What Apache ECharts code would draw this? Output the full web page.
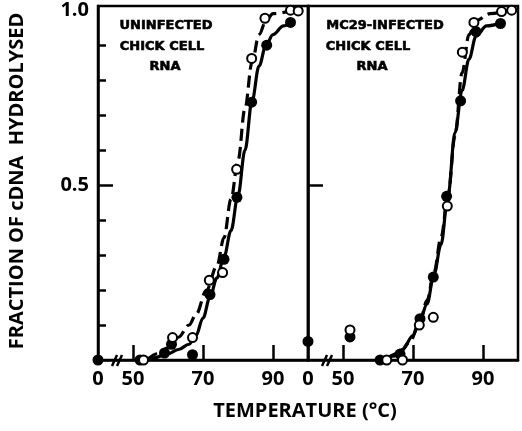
<!DOCTYPE html>
<html lang="en">
<head>
<meta charset="UTF-8">
<title>cDNA hydrolysis melting curves</title>
<style>
  * { margin: 0; padding: 0; }
  body { background: #fff; overflow: hidden; }
  #chart { width: 522px; height: 431px; }
</style>
</head>
<body>
<div id="chart"></div>
<script src="https://cdn.jsdelivr.net/npm/echarts@6/dist/echarts.min.js"></script>
<script>
  // [temperature °C, fraction of cDNA hydrolysed]
  // a temperature of 0 sits at the axis break
  const uninfFilled = [[0, 0], [52, 0], [59, 0.02], [61, 0.045], [67, 0.015], [72, 0.187], [76, 0.288], [79.7, 0.465], [83.9, 0.737], [88.2, 0.9], [95, 0.965]];
  const uninfOpen = [[53, 0], [61.3, 0.064], [67, 0.064], [71.8, 0.228], [75.6, 0.25], [79.6, 0.545], [83.9, 0.862], [87.7, 0.977], [95, 1.0], [97.2, 0.998]];
  const uninfSolid = [[52.5, 0], [56, 0.006], [60, 0.018], [63, 0.03], [66, 0.045], [68, 0.07], [70, 0.12], [72, 0.18], [74, 0.235], [76, 0.295], [78, 0.37], [80, 0.47], [82, 0.6], [84, 0.74], [86, 0.84], [88, 0.9], [90, 0.93], [93, 0.955], [95, 0.965]];
  const uninfDashed = [[54, 0], [57, 0.018], [60, 0.035], [63, 0.065], [66, 0.1], [68, 0.13], [71, 0.2], [74, 0.27], [76, 0.35], [78, 0.46], [80, 0.57], [82, 0.72], [84, 0.85], [86, 0.93], [88, 0.97], [90, 0.99], [96, 1.0]];

  const mc29Filled = [[0, 0.053], [52, 0.066], [60.6, 0], [66.3, 0.017], [72, 0.118], [75.8, 0.237], [79.6, 0.468], [83.6, 0.741], [88, 0.939], [95, 0.962]];
  const mc29Open = [[52, 0.086], [62.5, 0], [67, 0], [71.8, 0.1], [75.8, 0.122], [79.8, 0.44], [84.1, 0.88], [87.4, 0.965], [95.3, 0.996], [98.2, 1.0]];
  const mc29Solid = [[60.5, 0], [65, 0.012], [67, 0.03], [70, 0.07], [72, 0.115], [74, 0.16], [76, 0.245], [78, 0.33], [80, 0.47], [82, 0.65], [84, 0.77], [86, 0.86], [88, 0.925], [91, 0.955], [95, 0.963]];
  const mc29Dashed = [[62, 0], [66, 0.02], [69, 0.05], [72, 0.11], [74, 0.17], [76, 0.25], [78, 0.35], [80, 0.47], [82, 0.64], [84, 0.82], [86, 0.93], [88, 0.97], [92, 0.99], [98, 1.0]];

  const xTickValues = [50, 70, 90];
  const xLabelValues = [0, 50, 70, 90];
  const yTickValues = [0.1, 0.2, 0.3, 0.4, 0.5, 0.6, 0.7, 0.8, 0.9];
  const yMajorTicks = [0.5];
  const yLabelValues = [0.5, 1.0];

  const BREAK_POS = 40; // axis position standing in for 0 °C
  const toAxis = t => (t === 0 ? BREAK_POS : t);
  const place = arr => arr.map(p => [toAxis(p[0]), p[1]]);

  const FONT = 'Open Sans';
  const HEAVY = 'DejaVu Sans';

  const chart = echarts.init(document.getElementById('chart'));

  const xAxisFor = gridIndex => ({
    type: 'value',
    gridIndex: gridIndex,
    min: 40,
    max: 100,
    axisLine: { lineStyle: { color: '#000', width: 2.5 } },
    axisTick: { inside: true, length: 15, customValues: xTickValues, lineStyle: { color: '#000', width: 2.5 } },
    axisLabel: {
      customValues: xLabelValues.map(toAxis),
      formatter: v => (v === BREAK_POS ? '0' : String(v)),
      color: '#000', fontFamily: FONT, fontWeight: 'bold', fontSize: 20, margin: 9
    },
    splitLine: { show: false }
  });

  const yBase = gridIndex => ({
    type: 'value',
    gridIndex: gridIndex,
    position: 'left',
    min: 0,
    max: 1.012,
    splitLine: { show: false }
  });

  const curve = (data, idx, dashed) => ({
    type: 'line',
    xAxisIndex: idx,
    yAxisIndex: idx === 0 ? 0 : 2,
    data: place(data),
    smooth: 0.35,
    smoothMonotone: 'x',
    showSymbol: false,
    silent: true,
    z: 2,
    lineStyle: { color: '#000', width: 3.2, type: dashed ? [12, 6] : 'solid' }
  });

  const dots = (data, idx, open) => ({
    type: 'scatter',
    xAxisIndex: idx,
    yAxisIndex: idx === 0 ? 0 : 2,
    data: place(data),
    symbol: 'circle',
    symbolSize: open ? 9 : 11,
    z: open ? 4 : 3,
    itemStyle: open
      ? { color: '#fff', borderColor: '#000', borderWidth: 2, opacity: 1 }
      : { color: '#000', opacity: 1 }
  });

  chart.setOption({
    animation: false,
    backgroundColor: '#fff',
    grid: [
      { left: 98, top: 6, width: 210, height: 354, show: true, borderColor: '#000', borderWidth: 2.5 },
      { left: 308, top: 6, width: 210, height: 354, show: true, borderColor: '#000', borderWidth: 2.5 }
    ],
    xAxis: [xAxisFor(0), xAxisFor(1)],
    yAxis: [
      Object.assign(yBase(0), {
        axisLine: { show: true, lineStyle: { color: '#000', width: 2.5 } },
        axisTick: { inside: true, length: 8, customValues: yTickValues, lineStyle: { color: '#000', width: 2.5 } },
        axisLabel: {
          customValues: yLabelValues,
          formatter: v => v.toFixed(1),
          color: '#000', fontFamily: FONT, fontWeight: 'bold', fontSize: 20, margin: 9
        }
      }),
      Object.assign(yBase(0), {
        axisLine: { show: false },
        axisTick: { inside: true, length: 15, customValues: yMajorTicks, lineStyle: { color: '#000', width: 2.5 } },
        axisLabel: { show: false }
      }),
      Object.assign(yBase(1), {
        axisLine: { show: true, lineStyle: { color: '#000', width: 2.5 } },
        axisTick: { inside: true, length: 15, customValues: yMajorTicks, lineStyle: { color: '#000', width: 2.5 } },
        axisLabel: { show: false }
      })
    ],
    series: [
      curve(uninfSolid, 0, false),
      curve(uninfDashed, 0, true),
      dots(uninfFilled, 0, false),
      dots(uninfOpen, 0, true),
      curve(mc29Solid, 1, false),
      curve(mc29Dashed, 1, true),
      dots(mc29Filled, 1, false),
      dots(mc29Open, 1, true)
    ]
  });

  // axis break marks, panel captions and axis titles
  const breakMarks = [0, 1].flatMap(g => {
    const p = chart.convertToPixel({ gridIndex: g }, [44, 0]);
    return [0, 5].map(dx => ({
      type: 'line',
      silent: true,
      z: 10,
      shape: { x1: p[0] + dx, y1: p[1] + 6, x2: p[0] + dx + 5, y2: p[1] - 5 },
      style: { stroke: '#000', lineWidth: 2.5 }
    }));
  });

  const caption = (text, x, y) => ({
    type: 'text',
    x: x, y: y,
    style: {
      text: text, fill: '#000', font: 'bold 13px "' + HEAVY + '"',
      textAlign: 'center', textVerticalAlign: 'middle', stroke: '#000', lineWidth: 0.6
    }
  });

  chart.setOption({
    graphic: breakMarks.concat([
      caption('UNINFECTED', 166, 26),
      caption('CHICK CELL', 162, 47),
      caption('RNA', 165, 67),
      caption('MC29-INFECTED', 385, 26),
      caption('CHICK CELL', 368, 47),
      caption('RNA', 372, 67),
      {
        type: 'text', x: 305, y: 411,
        style: {
          text: 'TEMPERATURE (°C)', fill: '#000', font: 'bold 20px "' + FONT + '"',
          textAlign: 'center', textVerticalAlign: 'middle'
        }
      },
      {
        type: 'text', x: 17, y: 181, rotation: Math.PI / 2,
        style: {
          text: 'FRACTION OF cDNA  HYDROLYSED', fill: '#000', font: 'bold 20px "' + FONT + '"',
          textAlign: 'center', textVerticalAlign: 'middle'
        }
      }
    ])
  });
</script>
</body>
</html>
